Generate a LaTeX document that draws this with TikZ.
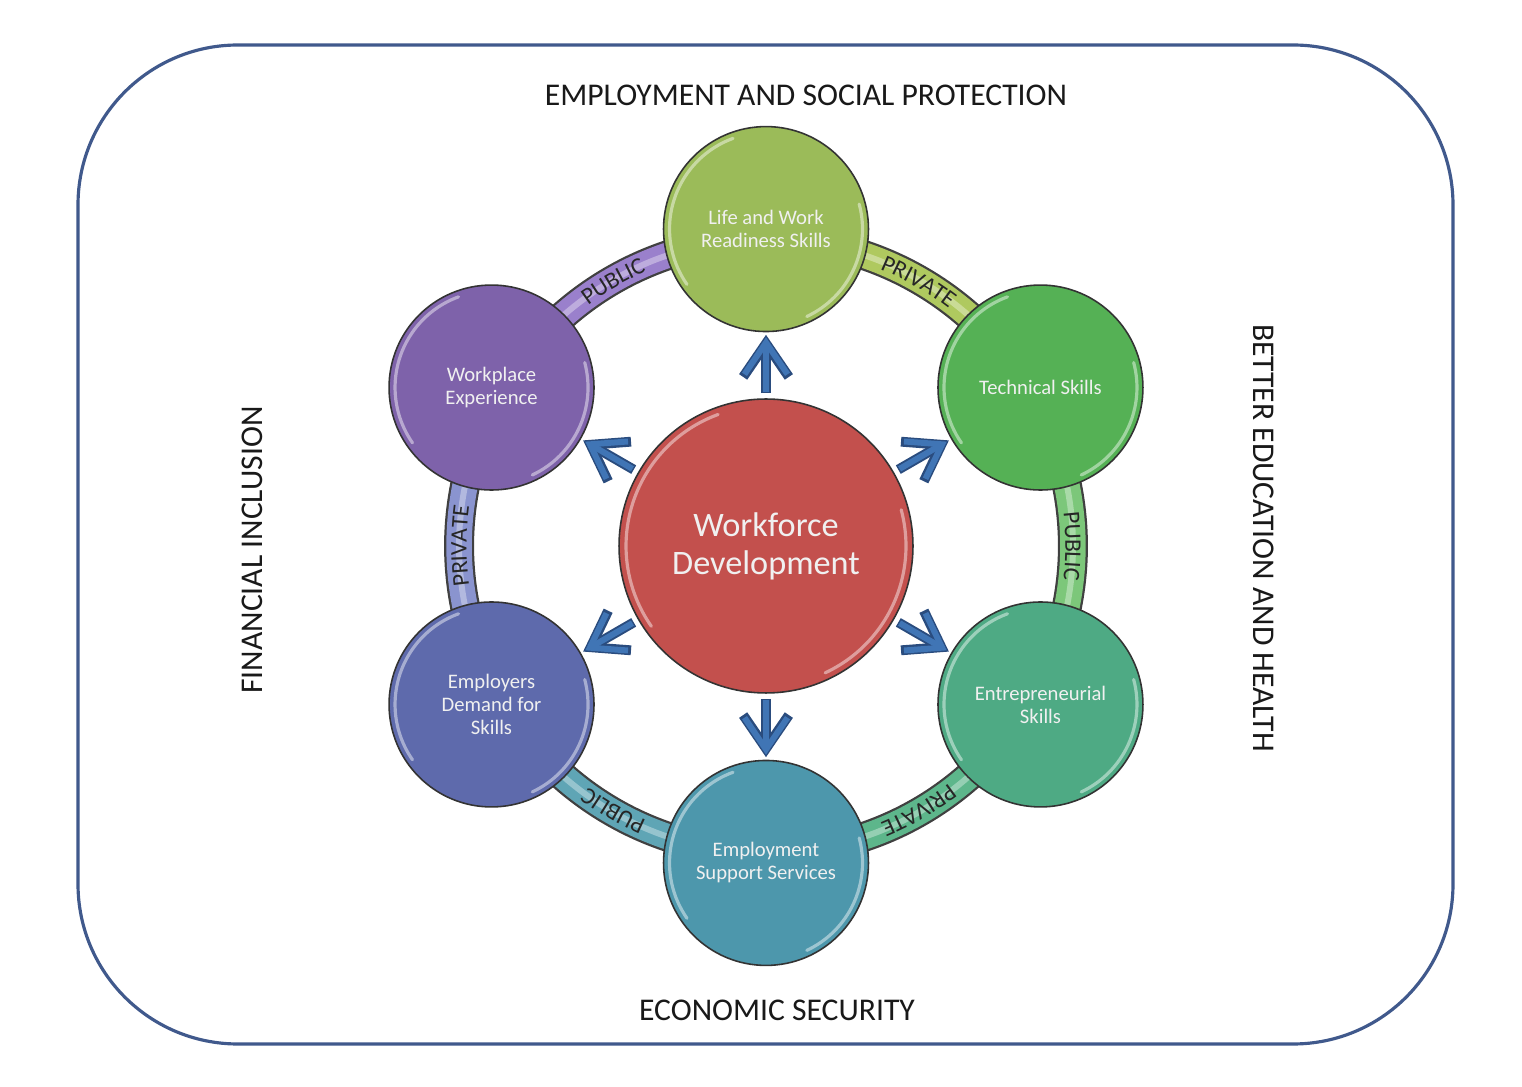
\documentclass[tikz,border=0pt]{standalone}
\usepackage{fontspec}
\setmainfont{Carlito}
\usetikzlibrary{arrows.meta,decorations.text,calc}
\definecolor{LW}{HTML}{9BBB59}
\definecolor{TS}{HTML}{55B155}
\definecolor{ES}{HTML}{4EAA84}
\definecolor{EM}{HTML}{4D97AC}
\definecolor{ED}{HTML}{5E6AAC}
\definecolor{WP}{HTML}{7E62AA}
\definecolor{WD}{HTML}{C3504D}
\definecolor{BLW}{HTML}{AFC95F}
\definecolor{BTS}{HTML}{7CC77A}
\definecolor{BES}{HTML}{5DB68B}
\definecolor{BEM}{HTML}{5FA5B5}
\definecolor{BED}{HTML}{8A94CF}
\definecolor{BWP}{HTML}{9A80CC}
\definecolor{ArrowBlue}{HTML}{4075B5}
\definecolor{ArrowDark}{HTML}{2A4C7E}
\definecolor{FrameBlue}{HTML}{40598C}
\newcommand\mycircfont{\fontsize{11.75}{13.1}\selectfont}
\newcommand\mybigfont{\fontsize{19.5}{21.6}\selectfont}
\newcommand\myringfont{\fontsize{13.5}{14}\selectfont}
\newcommand\mysidefont{\fontsize{18}{20}\selectfont}
\newcommand\ringband[3]{%
  \draw[line width=0.6cm, black!75] ($(C)+(#1:6.14cm)$) arc[start angle=#1, end angle=#1-60, radius=6.14cm];
  \draw[line width=0.51cm, #2] ($(C)+(#1:6.14cm)$) arc[start angle=#1, end angle=#1-60, radius=6.14cm];
  \draw[line width=0.12cm, white, opacity=.35] ($(C)+(#1:6.14cm)$) arc[start angle=#1, end angle=#1-60, radius=6.14cm];
  \path[decorate, decoration={text along path, text={|\myringfont\color{black!85}|#3}, text align=center, raise=-4.3pt}]
    ($(C)+(#1:6.14cm)$) arc[start angle=#1, end angle=#1-60, radius=6.14cm];
}
\newcommand\gloss[2]{%
  \draw[hl] ($(#1.center)+(110:#2)$) arc[start angle=110, end angle=215, radius=#2];
  \draw[hl] ($(#1.center)+(-65:#2)$) arc[start angle=-65, end angle=15, radius=#2];
}
\tikzset{
  frame/.style={draw=FrameBlue, line width=1.8pt, rounded corners=3.2cm},
  bub/.style={circle, draw=black!80, line width=0.9pt, minimum size=4.1cm, inner sep=0pt,
    align=center, text=white!94!black, font=\mycircfont},
  hl/.style={draw=white, opacity=.45, line width=1.8pt, line cap=round},
  arrdark/.style={draw=ArrowDark, line width=5.6pt, shorten <=0.1cm, shorten >=0.05cm,
    -{Straight Barb[length=19pt,width=26pt]}},
  arr/.style={draw=ArrowBlue, line width=3.4pt, shorten <=0.13cm, shorten >=0.1cm,
    -{Straight Barb[length=18pt,width=24.5pt]}},
  side/.style={font=\mysidefont, text=black!90}
}
\begin{document}
\begin{tikzpicture}[x=0.02cm,y=0.02cm]
\useasboundingbox (0,0) rectangle (1522,1086);
\fill[white] (0,0) rectangle (1522,1086);
\draw[frame] (78,42) rectangle (1453,1041);
\coordinate (C) at (766,540);

% ring bands
\ringband{150}{BWP}{PUBLIC}
\ringband{90}{BLW}{PRIVATE}
\ringband{30}{BTS}{PUBLIC}
\ringband{-30}{BES}{PRIVATE}
\ringband{-90}{BEM}{PUBLIC}
\ringband{-150}{BED}{PRIVATE}

% circles
\node[bub, fill=WD, minimum size=5.88cm, font=\mybigfont] (wd) at (C) {Workforce\\Development};
\node[bub, fill=LW] (ls) at ($(C)+(90:6.34cm)$) {Life and Work\\Readiness Skills};
\node[bub, fill=TS] (ts) at ($(C)+(30:6.34cm)$) {Technical Skills};
\node[bub, fill=ES] (es) at ($(C)+(-30:6.34cm)$) {Entrepreneurial\\Skills};
\node[bub, fill=EM] (em) at ($(C)+(-90:6.34cm)$) {Employment\\Support Services};
\node[bub, fill=ED] (ed) at ($(C)+(-150:6.34cm)$) {Employers\\Demand for\\Skills};
\node[bub, fill=WP] (wp) at ($(C)+(150:6.34cm)$) {Workplace\\Experience};

% glossy highlights
\foreach \n in {ls,ts,es,em,ed,wp}{
  \gloss{\n}{1.93cm}
}
\gloss{wd}{2.8cm}

% arrows
\foreach \n in {ls,ts,es,em,ed,wp}{
  \draw[arrdark] (wd) -- (\n);
  \draw[arr] (wd) -- (\n);
}

% side labels
\node[side] (t1) at (806,991) {EMPLOYMENT AND SOCIAL PROTECTION};
\node[side] (t2) at (777,76) {ECONOMIC SECURITY};
\node[side, rotate=90] (t3) at (252,536) {FINANCIAL INCLUSION};
\node[side, rotate=-90] (t4) at (1264,548) {BETTER EDUCATION AND HEALTH};
\end{tikzpicture}
\end{document}
